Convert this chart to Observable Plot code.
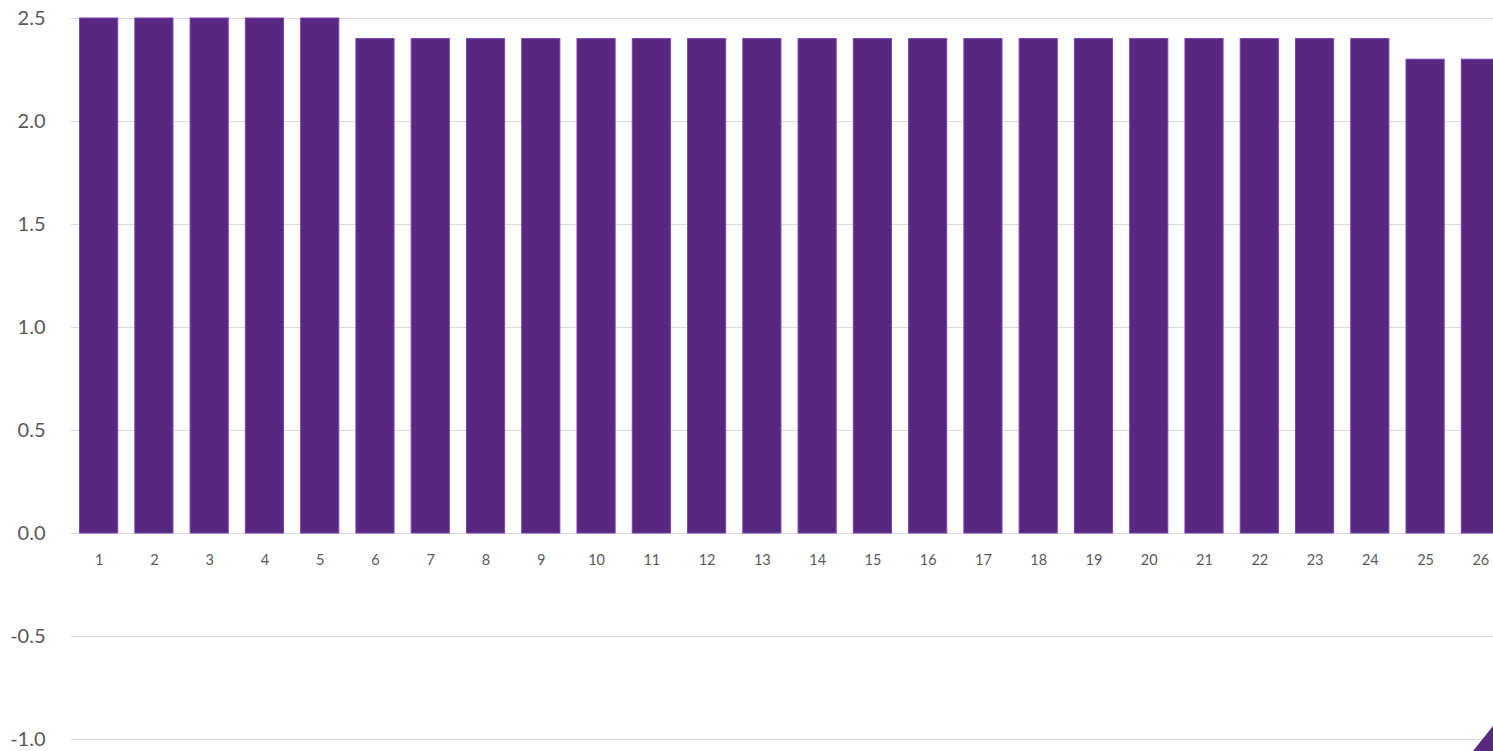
<!DOCTYPE html>
<html>
<head>
<meta charset="utf-8">
<script src="https://cdn.jsdelivr.net/npm/d3@7"></script>
<script src="https://cdn.jsdelivr.net/npm/@observablehq/plot@0.6"></script>
<style>
  html, body { margin: 0; padding: 0; background: #fff; overflow: hidden; }
  #wrap { position: relative; width: 1493px; height: 751px; overflow: hidden; }
  #chart { width: 1510px; }
  #chart svg { max-width: none !important; display: block; }
  #corner { position: absolute; right: 0; bottom: 0; }
</style>
</head>
<body>
<div id="wrap">
  <div id="chart"></div>
  <svg id="corner" width="20" height="25" viewBox="0 0 20 25"><polygon points="0,25 20,0 20,25" fill="#582A7E"/></svg>
</div>
<script>
// Categories and their bar heights
const categories = d3.range(1, 27);
const values = [2.5, 2.5, 2.5, 2.5, 2.5,
  2.4, 2.4, 2.4, 2.4, 2.4, 2.4, 2.4, 2.4, 2.4, 2.4,
  2.4, 2.4, 2.4, 2.4, 2.4, 2.4, 2.4, 2.4, 2.4,
  2.3, 2.3];
const yTicks = [-1, -0.5, 0, 0.5, 1, 1.5, 2, 2.5];

const data = categories.map((c, i) => ({cat: c, value: values[i]}));

const chart = Plot.plot({
  width: 1510,
  height: 751,
  marginTop: 18,
  marginBottom: 12,
  marginLeft: 71,
  marginRight: 2,
  style: {fontFamily: "Lato, 'Open Sans', sans-serif", background: "#fff", maxWidth: "none"},
  x: {type: "band", domain: categories, paddingInner: 0.31, paddingOuter: 0.155, round: false, axis: null},
  y: {domain: [-1, 2.5], axis: null},
  marks: [
    Plot.gridY(yTicks, {stroke: "#d9d9d9", strokeOpacity: 1, strokeWidth: 1.2}),
    Plot.axisY(yTicks, {
      tickSize: 0, tickPadding: 26, fontSize: 20, fill: "#595959",
      tickFormat: d => d.toFixed(1), label: null
    }),
    Plot.barY(data, {x: "cat", y: "value", fill: "#582780", stroke: "#7a3fb8", strokeWidth: 1}),
    Plot.text(data, {x: "cat", y: 0, text: d => String(d.cat), dy: 27, fontSize: 14.5, fill: "#595959"})
  ]
});
document.getElementById("chart").appendChild(chart);
</script>
</body>
</html>
